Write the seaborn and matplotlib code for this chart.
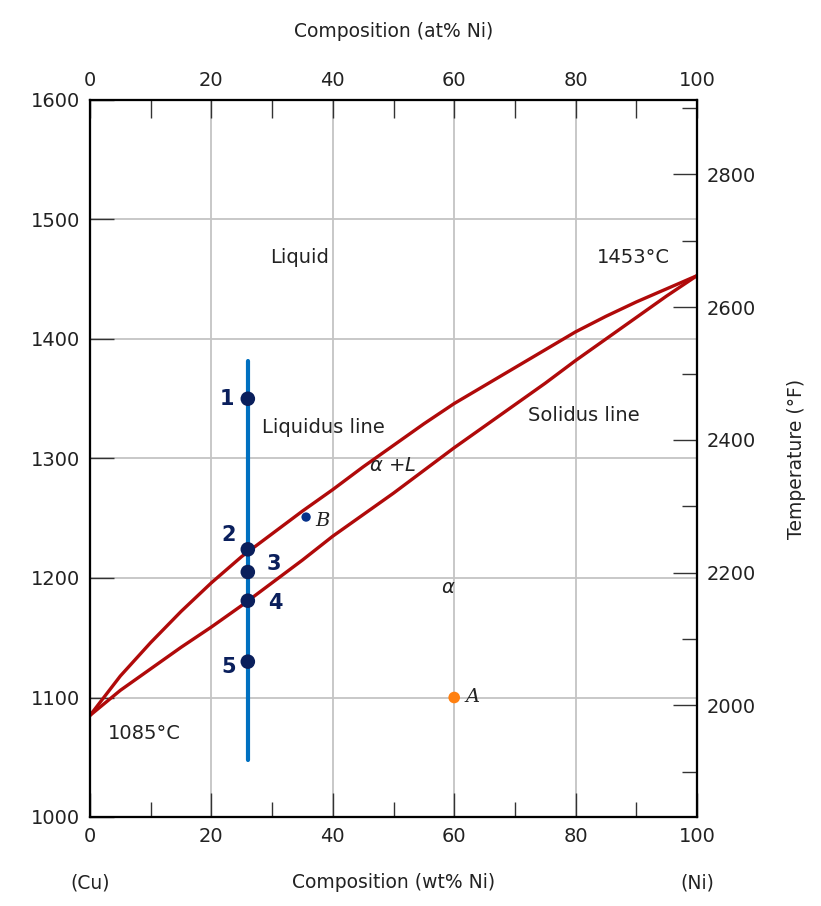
import numpy as np
import pandas as pd
import matplotlib
matplotlib.use("Agg")
import matplotlib.pyplot as plt
import seaborn as sns
from matplotlib.ticker import MultipleLocator

# ─────────────────────────────────────────────
# DATA
# ─────────────────────────────────────────────
wt_ni = [0, 5, 10, 15, 20, 25, 30, 35, 40, 45, 50,
         55, 60, 65, 70, 75, 80, 85, 90, 95, 100]
liquidus_c = [1085, 1118, 1146, 1172, 1196, 1218, 1237, 1256, 1274, 1293, 1311,
              1329, 1346, 1361, 1376, 1391, 1406, 1419, 1431, 1442, 1453]
solidus_c = [1085, 1106, 1124, 1142, 1159, 1177, 1196, 1215, 1235, 1253, 1271,
             1290, 1309, 1327, 1345, 1363, 1382, 1400, 1418, 1436, 1453]

alloy_comp = 26
alloy_range = [1048, 1382]
point_labels = ["1", "2", "3", "4", "5"]
point_temps = [1350, 1224, 1205, 1181, 1130]

point_b = (35.6, 1251)
point_a = (60, 1100)

x_ticks = [0, 20, 40, 60, 80, 100]
y_ticks = [1000, 1100, 1200, 1300, 1400, 1500, 1600]
f_ticks = [2000, 2200, 2400, 2600, 2800]

RED = "#b00a0a"
BLUE = "#0070c0"
NAVY = "#0a1f5c"
ORANGE = "#ff8010"
TXT = "#222222"
TICK = "#333333"

# ─────────────────────────────────────────────
# FIGURE
# ─────────────────────────────────────────────
sns.set_style("white")
plt.rcParams["font.family"] = ["DejaVu Sans"]
plt.rcParams["lines.solid_joinstyle"] = "round"

fig = plt.figure(figsize=(8.21, 9.06), dpi=100)
ax = fig.add_axes([90 / 821, 89 / 906, 607 / 821, 717 / 906])

df = pd.DataFrame({"wt": wt_ni, "liq": liquidus_c, "sol": solidus_c})
sns.lineplot(data=df, x="wt", y="liq", ax=ax, color=RED, lw=2.4,
             sort=False, estimator=None, zorder=3)
sns.lineplot(data=df, x="wt", y="sol", ax=ax, color=RED, lw=2.4,
             sort=False, estimator=None, zorder=3)

# alloy composition line + numbered states
sns.lineplot(x=[alloy_comp, alloy_comp], y=alloy_range, ax=ax, color=BLUE,
             lw=3, sort=False, estimator=None, zorder=4)
sns.scatterplot(x=[alloy_comp] * len(point_temps), y=point_temps, ax=ax,
                color=NAVY, s=110, edgecolor="none", zorder=5)
offsets = [(-15, 0), (-14, 10), (19, 6), (20, -2), (-14, -4)]
for lab, t, off in zip(point_labels, point_temps, offsets):
    ax.annotate(lab, (alloy_comp, t), xytext=off, textcoords="offset points",
                ha="center", va="center", fontsize=15, fontweight="bold",
                color=NAVY)

sns.scatterplot(x=[point_b[0]], y=[point_b[1]], ax=ax, color="#06318a",
                s=45, edgecolor="none", zorder=5)
sns.scatterplot(x=[point_a[0]], y=[point_a[1]], ax=ax, color=ORANGE,
                s=70, edgecolor="none", zorder=5)
ax.annotate("B", point_b, xytext=(12, -3), textcoords="offset points",
            ha="center", va="center", fontsize=14, style="italic",
            family="DejaVu Serif", color=TXT)
ax.annotate("A", point_a, xytext=(13, 0), textcoords="offset points",
            ha="center", va="center", fontsize=14, style="italic",
            family="DejaVu Serif", color=TXT)

# region / line labels
LBL = 14
ax.text(34.6, 1468, "Liquid", ha="center", va="center", fontsize=LBL, color=TXT)
ax.text(89.6, 1468, "1453°C", ha="center", va="center", fontsize=LBL, color=TXT)
ax.text(38.5, 1326, "Liquidus line", ha="center", va="center", fontsize=LBL, color=TXT)
ax.text(81.4, 1336, "Solidus line", ha="center", va="center", fontsize=LBL, color=TXT)
ax.text(8.9, 1070, "1085°C", ha="center", va="center", fontsize=LBL, color=TXT)
ax.text(49.9, 1294, r"$\alpha$ +$L$", ha="center", va="center", fontsize=14, color=TXT)
ax.text(59.1, 1192, r"$\alpha$", ha="center", va="center", fontsize=14, color=TXT)

# axes, ticks, grid
ax.set_xlim(0, 100)
ax.set_ylim(1000, 1600)
ax.set_xticks(x_ticks)
ax.set_yticks(y_ticks)
ax.xaxis.set_minor_locator(MultipleLocator(10))
ax.grid(True, which="major", color="#c4c4c4", lw=1.3, zorder=0)
ax.set_axisbelow(True)
ax.tick_params(axis="both", which="major", direction="in", length=17, width=1,
               color=TICK, labelsize=14, pad=7, labelcolor=TXT)
ax.tick_params(axis="x", which="minor", direction="in", length=11, width=1,
               color=TICK)
ax.set_xlabel("Composition (wt% Ni)", fontsize=13.5, labelpad=20, color=TXT)
ax.set_ylabel("")
ax.text(0, -0.092, "(Cu)", transform=ax.transAxes, ha="center", va="center",
        fontsize=13.5, color=TXT)
ax.text(1, -0.092, "(Ni)", transform=ax.transAxes, ha="center", va="center",
        fontsize=13.5, color=TXT)
for sp in ax.spines.values():
    sp.set_color("black")
    sp.set_linewidth(1.5)

ax_top = ax.twiny()
ax_top.set_xlim(0, 100)
ax_top.set_xticks(x_ticks)
ax_top.xaxis.set_minor_locator(MultipleLocator(10))
ax_top.tick_params(axis="x", which="both", direction="in", length=13, width=1,
                   color=TICK, labelsize=14, pad=7, labelcolor=TXT)
ax_top.set_xlabel("Composition (at% Ni)", fontsize=13.5, labelpad=25, color=TXT)

ax_right = ax.twinx()
ax_right.set_ylim(1000 * 9 / 5 + 32, 1600 * 9 / 5 + 32)
ax_right.set_yticks(f_ticks)
ax_right.yaxis.set_minor_locator(MultipleLocator(100))
ax_right.tick_params(axis="y", which="major", direction="in", length=17, width=1,
                     color=TICK, labelsize=14, pad=7, labelcolor=TXT)
ax_right.tick_params(axis="y", which="minor", direction="in", length=11, width=1,
                     color=TICK)
ax_right.set_ylabel("Temperature (°F)", fontsize=13.5, labelpad=22, color=TXT)
for a in (ax_top, ax_right):
    for sp in a.spines.values():
        sp.set_color("black")
        sp.set_linewidth(1.5)

fig.savefig("out.png", dpi=100, facecolor="white")
